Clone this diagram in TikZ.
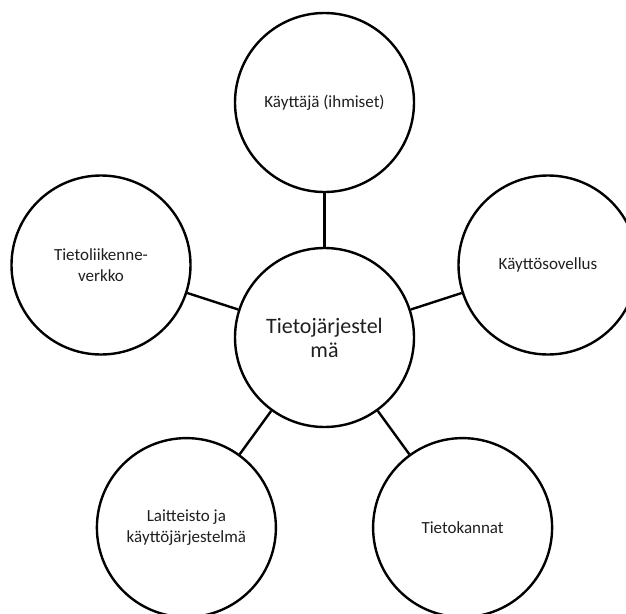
\documentclass[tikz,border=0pt]{standalone}
\usepackage{fontspec}
\setmainfont{Carlito}
\begin{document}
\begin{tikzpicture}[x=1pt,y=-1pt,
  bubble/.style={circle, draw=black, fill=white, line width=2.4pt, minimum size=179pt,
    inner sep=0pt, align=center, text=black!88, font=\fontsize{17}{21}\selectfont},
  hub/.style={bubble, font=\fontsize{22}{24}\selectfont},
  link/.style={draw=black, line width=2.4pt}]
\useasboundingbox (0,0) rectangle (626,613);
% central system node
\node[hub] (sys) at (324.5,337.5) {Tietojärjestel\\mä};
% five components on a regular pentagon around it
\node[bubble] (user) at (324.5,102.5) {Käyttäjä (ihmiset)};
\node[bubble] (app)  at (548,265) {Käyttösovellus};
\node[bubble] (db)   at (462.6,527.6) {Tietokannat};
\node[bubble] (hw)   at (186.4,527.6) {Laitteisto ja\\käyttöjärjestelmä};
\node[bubble] (net)  at (101,265) {Tietoliikenne-\\verkko};
% radial connectors
\draw[link] (sys) -- (user);
\draw[link] (sys) -- (app);
\draw[link] (sys) -- (db);
\draw[link] (sys) -- (hw);
\draw[link] (sys) -- (net);
\end{tikzpicture}
\end{document}
